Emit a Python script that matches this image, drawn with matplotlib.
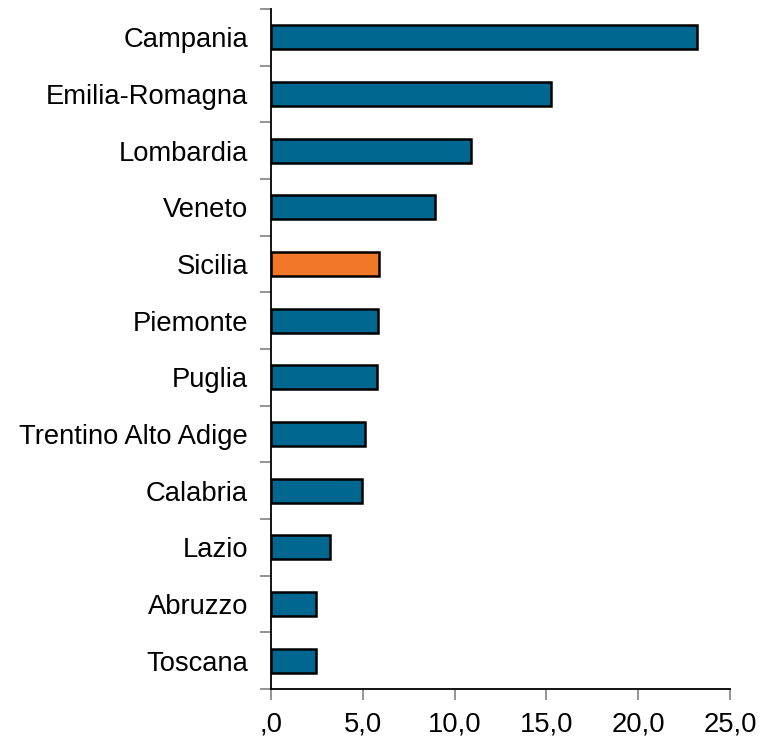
import numpy as np
import matplotlib.pyplot as plt

plt.rcParams['font.family'] = ['Liberation Sans', 'DejaVu Sans']

# dati
regioni = ['Campania', 'Emilia-Romagna', 'Lombardia', 'Veneto', 'Sicilia',
           'Piemonte', 'Puglia', 'Trentino Alto Adige', 'Calabria', 'Lazio',
           'Abruzzo', 'Toscana']
valori = [23.2, 15.25, 10.9, 8.95, 5.9, 5.85, 5.78, 5.12, 4.98, 3.2, 2.45, 2.45]
evidenza = 'Sicilia'
xticks = [0, 5, 10, 15, 20, 25]
xlabels = [',0', '5,0', '10,0', '15,0', '20,0', '25,0']

blu = '#006890'
arancio = '#F07828'
colori = [arancio if r == evidenza else blu for r in regioni]

fig = plt.figure(figsize=(7.69, 7.36), dpi=100)
ax = fig.add_axes([271 / 769, 1 - 689 / 736, (730 - 271) / 769, (689 - 9) / 736])

y = np.arange(len(regioni))
ax.barh(y, valori, height=0.42, color=colori, edgecolor='black', linewidth=1.8)

ax.set_ylim(len(regioni) - 0.5, -0.5)
ax.set_xlim(0, 25)
ax.set_yticks(y)
ax.set_yticklabels(regioni, fontsize=19.7)
ax.set_yticks(np.arange(-0.5, len(regioni), 1), minor=True)
ax.tick_params(axis='y', which='major', length=0, pad=16.5)
ax.tick_params(axis='y', which='minor', length=8, color='#808080', width=1.2)
ax.set_xticks(xticks)
ax.set_xticklabels(xlabels, fontsize=19.7)
ax.tick_params(axis='x', length=8, color='#808080', width=1.2, pad=8)

for s in ['top', 'right']:
    ax.spines[s].set_visible(False)
for s in ['left', 'bottom']:
    ax.spines[s].set_linewidth(1.3)

fig.savefig('out.png', dpi=100)
